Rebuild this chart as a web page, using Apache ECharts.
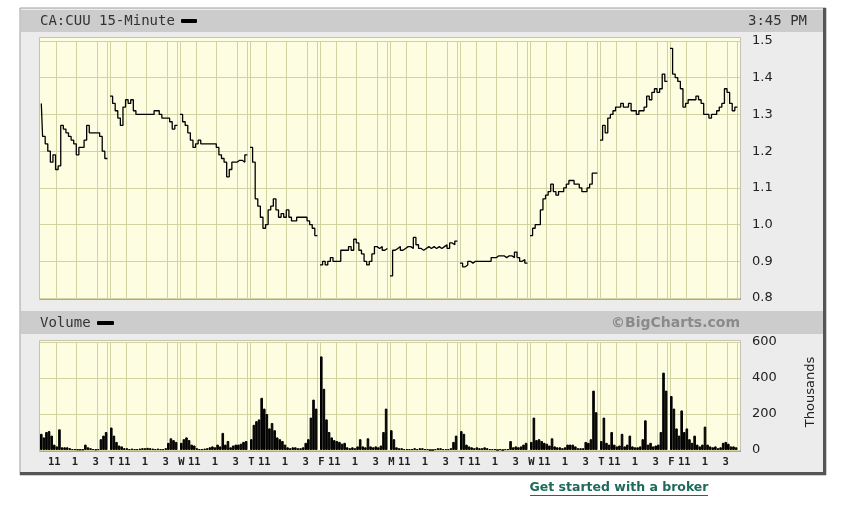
<!DOCTYPE html>
<html><head><meta charset="utf-8">
<script src="https://cdn.jsdelivr.net/npm/echarts@6/dist/echarts.min.js"></script>
<style>html,body{margin:0;padding:0;background:#fff}#c{width:854px;height:506px}</style>
</head><body><div id="c"></div>
<script>
// ---- data ----
const dayLetters = ['M','T','W','T','F','M','T','W','T','F'];
const timeSlots = ['9:30','9:45','10:00','10:15','10:30','10:45','11:00','11:15','11:30','11:45','12:00','12:15','12:30','12:45','13:00','13:15','13:30','13:45','14:00','14:15','14:30','14:45','15:00','15:15','15:30','15:45'];
const GAP = 'close';   // empty slot after each session (overnight gap)
// hour tick labels sit on the bar just left of their grid line
const hourLabels = {'10:45':'11','12:45':'1','14:45':'3'};
const gridTimes = ['9:30','11:00','13:00','15:00',GAP];
const priceTicks = [0.8,0.9,1.0,1.1,1.2,1.3,1.4,1.5];
const volumeTicks = [0,200,400,600];

const price1 = [1.33,1.24,1.22,1.20,1.17,1.19,1.15,1.16,1.27,1.26,1.25,1.24,1.23,1.22,1.19,1.21,1.21,1.23,1.27,1.25,1.25,1.25,1.25,1.24,1.20,1.18];
const price2 = [1.35,1.33,1.31,1.29,1.27,1.32,1.34,1.33,1.34,1.31,1.30,1.30,1.30,1.30,1.30,1.30,1.30,1.31,1.31,1.30,1.29,1.29,1.29,1.28,1.26,1.27];
const price3 = [1.30,1.28,1.27,1.25,1.23,1.21,1.22,1.23,1.22,1.22,1.22,1.22,1.22,1.22,1.21,1.19,1.18,1.17,1.13,1.15,1.17,1.17,1.175,1.175,1.17,1.19];
const price4 = [1.21,1.17,1.07,1.05,1.02,0.99,1.00,1.04,1.05,1.07,1.04,1.02,1.03,1.02,1.04,1.02,1.01,1.01,1.02,1.02,1.02,1.02,1.01,1.00,0.99,0.97];
const price5 = [0.89,0.90,0.89,0.90,0.91,0.90,0.90,0.90,0.93,0.93,0.93,0.94,0.93,0.96,0.95,0.93,0.92,0.90,0.89,0.90,0.92,0.94,0.935,0.94,0.93,0.935];
const price6 = [0.86,0.93,0.935,0.94,0.93,0.935,0.94,0.94,0.935,0.965,0.945,0.935,0.93,0.935,0.94,0.935,0.94,0.935,0.94,0.935,0.94,0.945,0.935,0.95,0.945,0.955];
const price7 = [0.895,0.885,0.89,0.90,0.895,0.90,0.90,0.90,0.90,0.90,0.90,0.90,0.91,0.91,0.915,0.915,0.915,0.91,0.915,0.915,0.91,0.925,0.91,0.90,0.905,0.895];
const price8 = [0.97,0.99,1.00,1.00,1.04,1.07,1.08,1.09,1.11,1.09,1.08,1.09,1.09,1.10,1.11,1.12,1.12,1.11,1.11,1.10,1.09,1.09,1.10,1.11,1.14,1.14];
const price9 = [1.23,1.27,1.25,1.29,1.30,1.31,1.32,1.32,1.33,1.32,1.32,1.33,1.31,1.31,1.30,1.31,1.31,1.32,1.35,1.34,1.36,1.37,1.36,1.37,1.41,1.39];
const price10 = [1.48,1.41,1.40,1.39,1.37,1.32,1.33,1.34,1.34,1.34,1.35,1.34,1.33,1.30,1.30,1.29,1.30,1.30,1.31,1.32,1.33,1.37,1.36,1.33,1.31,1.32];

const volume1 = [90,70,100,105,80,30,20,115,15,15,15,10,5,5,3,3,3,30,15,10,5,3,5,60,80,100];
const volume2 = [125,80,45,25,20,10,10,5,8,5,5,8,10,10,12,10,8,5,8,5,5,10,40,65,55,45];
const volume3 = [40,60,70,55,30,25,10,5,5,8,10,15,20,15,30,20,95,30,50,15,25,30,30,35,45,50];
const volume4 = [60,140,160,170,290,230,200,120,150,110,70,60,50,30,15,10,15,15,10,10,15,40,60,180,280,230];
const volume5 = [520,340,170,100,70,55,50,45,35,40,15,10,15,10,20,60,20,15,65,20,15,20,15,25,100,230];
const volume6 = [110,60,15,10,10,5,5,5,5,10,5,10,10,5,5,0,0,5,10,10,5,5,5,10,45,80];
const volume7 = [105,90,30,20,15,10,15,10,10,15,10,5,5,5,0,5,0,5,5,50,15,20,15,20,30,40];
const volume8 = [45,180,55,60,50,40,35,25,65,20,15,15,10,15,30,30,30,20,10,10,10,45,40,60,330,210];
const volume9 = [50,180,40,30,100,30,20,25,90,20,30,80,20,15,15,20,60,165,30,40,20,25,30,100,430,330];
const volume10 = [300,230,120,80,220,100,120,60,40,80,30,20,30,130,30,20,15,20,10,15,40,45,35,20,20,15];

const priceDays = [price1,price2,price3,price4,price5,price6,price7,price8,price9,price10];
const volumeDays = [volume1,volume2,volume3,volume4,volume5,volume6,volume7,volume8,volume9,volume10];

// ---- build ----
const slots = timeSlots.concat([GAP]);
const categories = [];
dayLetters.forEach((d, di) => slots.forEach(t => categories.push(di + '|' + t)));
const priceData = [], volumeData = [];
priceDays.forEach(day => { priceData.push(...day, null); });
volumeDays.forEach(day => { volumeData.push(...day, null); });

function slotOf(idx){ return slots[idx % slots.length]; }
function labelFor(idx){
  if (idx >= categories.length) return '';
  const di = Math.floor(idx / slots.length);
  const t = slotOf(idx);
  if (t === '9:30' && di > 0) return dayLetters[di];
  return hourLabels[t] || '';
}
// category indices whose left edge carries a vertical grid line
const gridLineIdx = [];
categories.forEach((c, i) => { if (i > 0 && gridTimes.indexOf(slotOf(i)) >= 0) gridLineIdx.push([i]); });

const GRIDC = '#d3d3a2';
const PLOTBG = '#fdfde1';

function vGridRender(params, api){
  const idx = api.value(0);
  const c = api.coord([idx, 0]);
  const bw = api.size([1, 0])[0];
  const x = Math.round(c[0] - bw / 2) + 0.5;
  const cs = params.coordSys;
  return {type:'line', shape:{x1:x, y1:cs.y, x2:x, y2:cs.y + cs.height},
          style:{stroke:GRIDC, lineWidth:1}};
}

const chart = echarts.init(document.getElementById('c'), null, {renderer:'canvas'});
chart.setOption({
  backgroundColor:'#ffffff',
  animation:false,
  graphic:[
    {type:'rect', z:-20, shape:{x:20,y:8,width:806,height:467}, style:{fill:'#ececec', stroke:'#a0a0a0', lineWidth:1}},
    {type:'polyline', z:-19, shape:{points:[[824.5,8],[824.5,473.5],[20,473.5]]}, style:{stroke:'#555', lineWidth:3, fill:null}},
    {type:'rect', z:-18, shape:{x:21,y:10,width:802,height:22}, style:{fill:'#cccccc'}},
    {type:'rect', z:-18, shape:{x:21,y:311,width:802,height:23}, style:{fill:'#cccccc'}},
    {type:'rect', z:-18, shape:{x:39.5,y:37.5,width:701,height:261}, style:{fill:PLOTBG, stroke:'#c4c4b0', lineWidth:1}},
    {type:'line', z:-17, shape:{x1:39.5,y1:299,x2:741,y2:299}, style:{stroke:'#a8a8a8', lineWidth:2}},
    {type:'rect', z:-18, shape:{x:39.5,y:340.5,width:701,height:110}, style:{fill:PLOTBG, stroke:'#c4c4b0', lineWidth:1}},
    {type:'line', z:-17, shape:{x1:39.5,y1:451,x2:741,y2:451}, style:{stroke:'#a8a8a8', lineWidth:2}},
    {type:'text', z:10, x:40, y:21, style:{text:'CA:CUU 15-Minute', font:'14px "DejaVu Sans Mono"', fill:'#333', verticalAlign:'middle'}},
    {type:'rect', z:10, shape:{x:181,y:19,width:16,height:4,r:1}, style:{fill:'#000'}},
    {type:'text', z:10, x:748, y:21, style:{text:'3:45 PM', font:'14px "DejaVu Sans Mono"', fill:'#333', verticalAlign:'middle'}},
    {type:'text', z:10, x:40, y:323, style:{text:'Volume', font:'14px "DejaVu Sans Mono"', fill:'#333', verticalAlign:'middle'}},
    {type:'rect', z:10, shape:{x:97,y:321,width:17,height:4,r:1}, style:{fill:'#000'}},
    {type:'text', z:10, x:740, y:323, style:{text:'©BigCharts.com', font:'bold 14px "DejaVu Sans"', fill:'#8a8a8a', align:'right', verticalAlign:'middle'}},
    {type:'text', z:10, x:811, y:392, rotation:Math.PI/2, style:{text:'Thousands', font:'13px "DejaVu Sans"', fill:'#222', align:'center', verticalAlign:'middle'}},
    {type:'text', z:10, x:619, y:488, style:{text:'Get started with a broker', font:'bold 12.5px "DejaVu Sans"', fill:'#1d6b58', align:'center', verticalAlign:'middle'}},
    {type:'line', z:10, shape:{x1:530,y1:495.5,x2:708,y2:495.5}, style:{stroke:'#1d6b58', lineWidth:1}}
  ],
  grid:[
    {left:40, right:114, top:41, height:257},
    {left:40, right:114, top:342, height:108}
  ],
  xAxis:[
    {type:'category', gridIndex:0, data:categories, boundaryGap:true,
     axisLine:{show:false}, axisTick:{show:false}, axisLabel:{show:false}, splitLine:{show:false}},
    {type:'category', gridIndex:1, data:categories, boundaryGap:true,
     axisLine:{show:false}, axisTick:{show:false},
     axisLabel:{show:true, interval:(i)=>labelFor(i)!=='', formatter:(v,i)=>labelFor(i),
       margin:7, color:'#222', fontFamily:'DejaVu Sans Mono', fontWeight:'bold', fontSize:10.5},
     splitLine:{show:false}}
  ],
  yAxis:[
    {type:'value', gridIndex:0, position:'right', min:priceTicks[0], max:priceTicks[priceTicks.length-1], interval:0.1,
     axisLine:{show:false}, axisTick:{show:false},
     axisLabel:{margin:12, color:'#222', fontFamily:'DejaVu Sans', fontSize:13, formatter:(v)=>v.toFixed(1)},
     splitLine:{show:true, lineStyle:{color:GRIDC, width:1}}},
    {type:'value', gridIndex:1, position:'right', min:volumeTicks[0], max:volumeTicks[volumeTicks.length-1], interval:200,
     axisLine:{show:false}, axisTick:{show:false},
     axisLabel:{margin:12, color:'#222', fontFamily:'DejaVu Sans', fontSize:13},
     splitLine:{show:true, lineStyle:{color:GRIDC, width:1}}}
  ],
  series:[
    {type:'custom', xAxisIndex:0, yAxisIndex:0, data:gridLineIdx, renderItem:vGridRender, silent:true, z:1, encode:{x:0}},
    {type:'custom', xAxisIndex:1, yAxisIndex:1, data:gridLineIdx, renderItem:vGridRender, silent:true, z:1, encode:{x:0}},
    {type:'line', xAxisIndex:0, yAxisIndex:0, data:priceData, step:'middle', showSymbol:false, connectNulls:false,
     lineStyle:{color:'#000', width:1.3}, z:5},
    {type:'bar', xAxisIndex:1, yAxisIndex:1, data:volumeData, barCategoryGap:'0%', barGap:'0%',
     itemStyle:{color:'#000', borderColor:'#000', borderWidth:1}, z:5}
  ]
});
</script></body></html>
